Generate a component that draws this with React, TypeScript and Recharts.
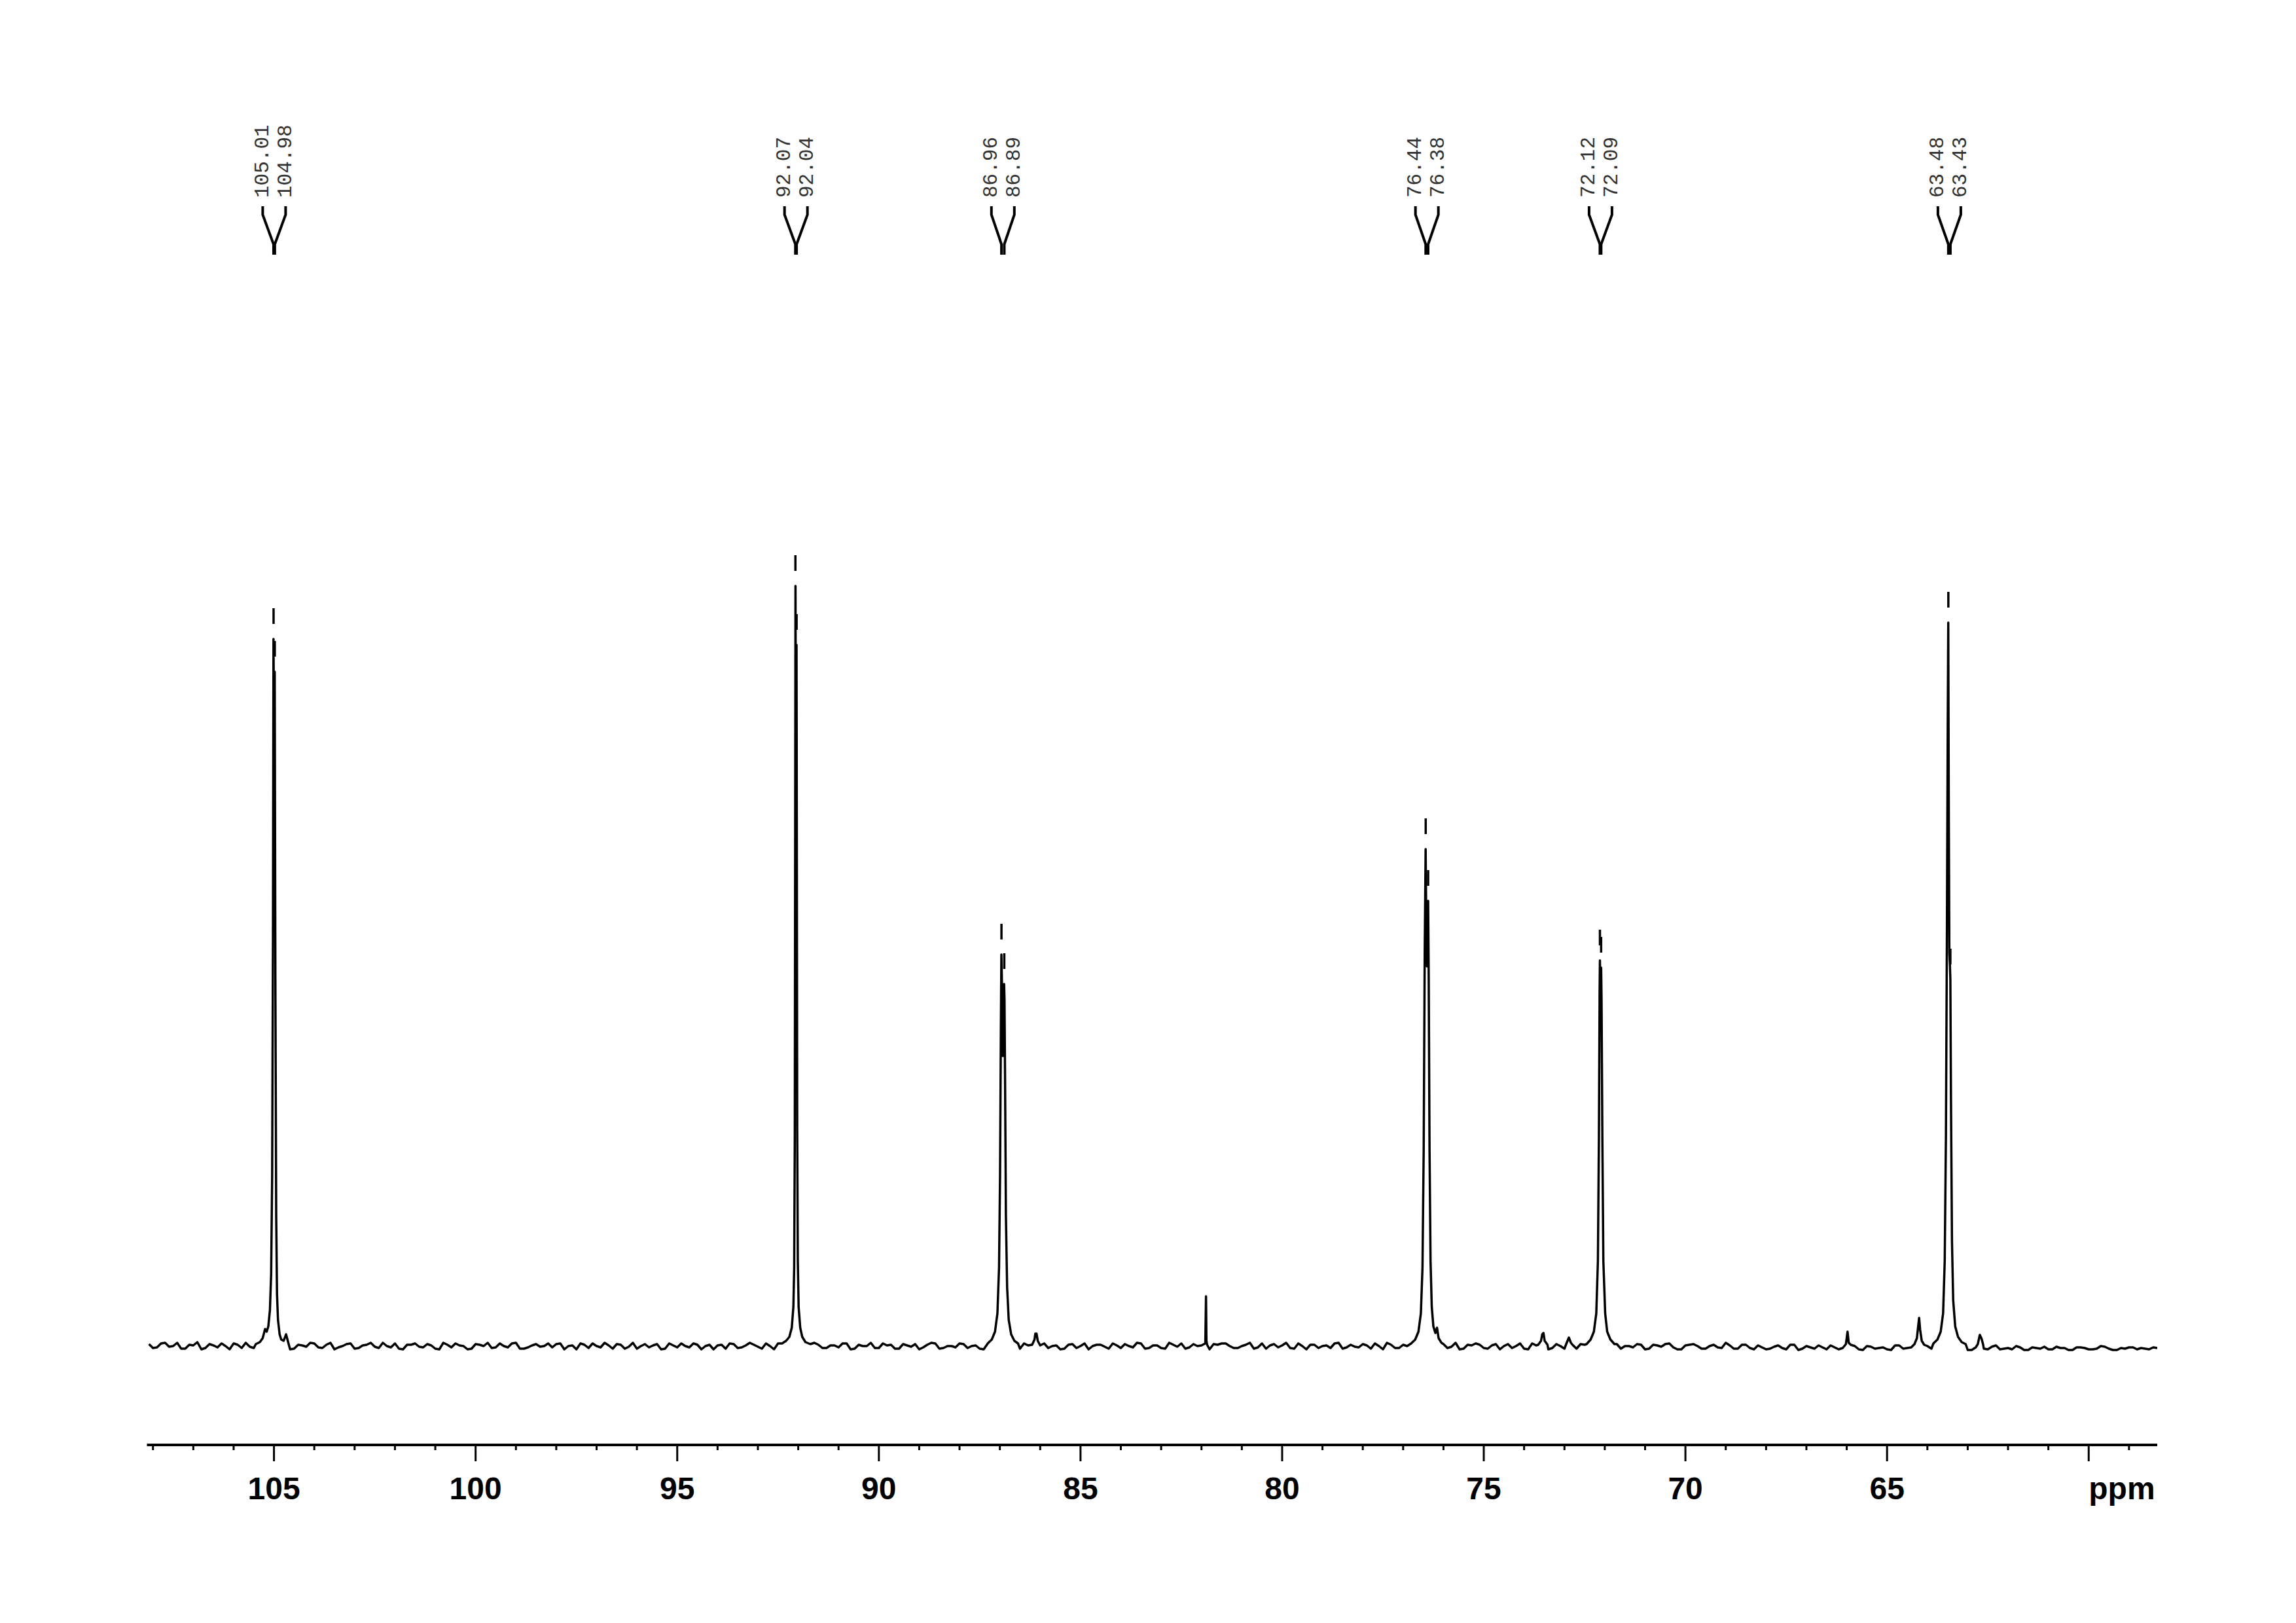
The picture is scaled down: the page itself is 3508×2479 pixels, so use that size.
import React from 'react';
import { ComposedChart, Line, XAxis, YAxis, Scatter } from 'recharts';

// ---- baseline noise ----
// set A: every 0.2 ppm from 108.1 down to 58.3
const NOISE_A_START = 108.1;
// set B: every 0.2 ppm from 108.0 down to 58.4
const NOISE_B_START = 108.0;
const NOISE_STEP = 0.2;
const baselineNoiseA = [
  3,-2,5,0,-4,2,6,-3,1,4,-5,2,5,-3,0,2,-2,4,-4,1,5,-2,2,-5,0,
  4,-3,2,-1,5,-2,-4,2,4,-2,1,-5,2,4,0,-4,2,5,-2,0,4,-4,-2,3,0,
  -2,4,0,-5,2,4,-2,1,3,-4,5,0,-2,3,-4,1,4,-2,2,0,-5,2,4,-3,1,
  2,-4,0,4,-2,5,1,-4,2,-3,1,4,-5,2,0,-3,4,2,-4,1,3,-2,5,-4,0,
  -2,3,0,-4,4,-2,2,5,-4,1,-2,4,0,-5,2,-3,4,0,2,-4,1,3,-2,4,-3,
  1,-4,2,4,-2,0,-5,3,4,0,-3,2,-4,4,1,-2,5,-4,0,2,-3,1,4,-4,2,
  -2,1,4,-5,2,-3,0,4,-4,2,0,-3,5,-4,1,2,-4,3,0,-3,4,-5,1,2,-3,
  0,4,-4,2,-3,1,-5,3,0,-2,2,-4,1,3,-2,-5,2,0,-4,2,-3,1,-4,2,-5,
  -2,-4,1,-5,2,-4,-2,1,-5,-2,-3,2,-5,0,-4,-2,-6,1,-3,-5,-1,-4,0,-5,-2,
  -3,-6,-1,-5,1,-4,-5,-2,-6,-3,-1,-5,-3,-6,-2,-3,-5,0,-4,-6,-4,-2,-3,-5,-3,
];
const baselineNoiseB = [
  -3,4,-1,5,-4,1,-5,3,-2,0,4,-3,-1,5,-4,3,0,-5,2,-1,4,-3,5,-2,3,
  -4,1,5,-3,0,4,-5,2,-1,3,-4,5,-2,1,-5,3,0,-3,4,-2,5,-4,1,-1,4,
  3,-5,1,4,-3,0,5,-4,2,-1,-4,3,1,-5,4,-2,0,4,-5,2,1,-4,3,-2,5,
  -1,4,-5,2,3,-4,0,5,-3,1,-2,4,-4,0,5,-3,1,-4,3,-1,-5,2,4,-3,0,
  4,-3,1,-5,2,3,-4,0,4,-2,5,-3,1,-4,3,0,-5,2,-1,4,-3,0,5,-4,1,
  -3,5,-1,-4,3,1,-5,2,4,-3,0,5,-2,-4,3,1,-3,4,-5,2,0,-3,5,-2,-1,
  3,-4,0,5,-3,2,-5,1,4,-4,3,-1,-5,2,4,-3,1,-5,3,0,-4,4,-2,-5,3,
  -4,2,3,-5,1,-2,4,-4,0,3,-5,2,-1,4,-5,1,3,-4,0,-2,5,-4,2,-3,1,
  -5,-1,-3,2,-6,0,-4,-2,1,-5,-3,0,-6,-1,-3,-5,1,-4,-2,-6,0,-3,-5,-1,-4,
  -6,-2,-4,-1,-5,-3,0,-6,-2,-4,-5,-1,-3,-6,-2,-5,-4,-1,-6,-3,-2,-5,-4,-2,
];

// ---- peak regions [ppm, intensity] ----
const peaks105 = [
  [105.45, 3], [105.35, 6], [105.28, 12], [105.22, 26], [105.18, 22], [105.14, 30], [105.1, 55],
  [105.07, 110], [105.045, 260], [105.025, 620], [105.012, 1080], [104.995, 900], [104.982, 1030],
  [104.965, 560], [104.945, 200], [104.925, 80], [104.9, 40], [104.86, 18], [104.82, 10],
  [104.76, 8], [104.7, 18], [104.64, 4],
];
const peaks92 = [
  [92.4, 4], [92.3, 8], [92.22, 14], [92.16, 28], [92.12, 60], [92.1, 120], [92.085, 320],
  [92.075, 800], [92.068, 1161], [92.055, 850], [92.042, 1071], [92.035, 800], [92.025, 330],
  [92.01, 130], [91.99, 60], [91.95, 28], [91.9, 14], [91.82, 6], [91.7, 3],
];
const peaks87 = [
  [87.3, 4], [87.2, 10], [87.12, 22], [87.06, 50], [87.02, 120], [86.995, 260], [86.975, 480],
  [86.962, 598], [86.95, 560], [86.935, 470], [86.925, 443], [86.91, 480], [86.895, 553],
  [86.885, 530], [86.87, 400], [86.85, 200], [86.82, 90], [86.78, 40], [86.72, 18], [86.64, 8], [86.55, 4],
];
const peaks76 = [
  [76.8, 4], [76.7, 10], [76.62, 22], [76.56, 50], [76.52, 120], [76.49, 300], [76.465, 600],
  [76.442, 759], [76.425, 640], [76.41, 580], [76.395, 640], [76.38, 680], [76.365, 560],
  [76.345, 300], [76.32, 130], [76.29, 60], [76.25, 30], [76.2, 20], [76.16, 28], [76.12, 12], [76.05, 5],
];
const peaks72 = [
  [72.45, 3], [72.35, 10], [72.27, 22], [72.21, 50], [72.17, 130], [72.145, 320], [72.128, 540],
  [72.12, 589], [72.105, 521], [72.09, 578], [72.08, 530], [72.06, 320], [72.035, 130],
  [71.99, 50], [71.94, 22], [71.86, 10], [71.76, 3],
];
const peaks63 = [
  [63.85, 4], [63.75, 10], [63.67, 22], [63.61, 50], [63.57, 130], [63.54, 320], [63.515, 640],
  [63.495, 950], [63.482, 1105], [63.468, 800], [63.455, 600], [63.44, 580], [63.43, 560],
  [63.415, 380], [63.39, 160], [63.36, 70], [63.31, 30], [63.24, 14], [63.15, 6], [63.05, 3],
];
const minorPeaks = [
  [[86.2, 2], [86.14, 10], [86.12, 19], [86.09, 19], [86.06, 8], [86.0, 1]],
  [[81.905, 4], [81.888, 76], [81.878, 8], [81.86, 2]],
  [[73.65, 2], [73.58, 8], [73.55, 18], [73.52, 20], [73.49, 8], [73.42, 2]],
  [[72.95, 4], [72.89, 13], [72.84, 5]],
  [[66.02, 3], [65.98, 22], [65.95, 5]],
  [[64.32, 3], [64.26, 12], [64.22, 35], [64.205, 43], [64.18, 25], [64.14, 8], [64.08, 2]],
  [[62.75, 3], [62.7, 17], [62.66, 12], [62.62, 3]],
];

// ---- peak annotations ----
const peakLabels = ['105.01', '104.98', '92.07', '92.04', '86.96', '86.89', '76.44', '76.38', '72.12', '72.09', '63.48', '63.43'];
const peakPositions = [105.01, 104.98, 92.07, 92.04, 86.96, 86.89, 76.44, 76.38, 72.12, 72.09, 63.48, 63.43];
const peakTops = [1080, 1030, 1161, 1071, 598, 553, 759, 680, 589, 578, 1105, 560];

// ---- axis ----
const majorTicks = [105, 100, 95, 90, 85, 80, 75, 70, 65, 60];
const minorTicks = [108, 107, 106, 104, 103, 102, 101, 99, 98, 97, 96, 94, 93, 92, 91, 89, 88, 87, 86, 84, 83, 82, 81, 79, 78, 77, 76, 74, 73, 72, 71, 69, 68, 67, 66, 64, 63, 62, 61, 59];
const X_DOMAIN: [number, number] = [58.3, 108.15];
const Y_DOMAIN: [number, number] = [-151, 1956];

// label layout (intensity units = px)
const LABEL_TEXT_Y = 1754;
const BR_TOP = 1741;
const BR_BEND = 1728;
const BR_JOIN = 1683;
const BR_BOTTOM = 1667;
const LABEL_HALF_GAP = 0.284;

// ---- build series ----
const segments: number[][][] = [peaks105, peaks92, peaks87, peaks76, peaks72, peaks63, ...minorPeaks];
const ranges = segments.map((s) => {
  const xs = s.map((p) => p[0]);
  return [Math.min(...xs), Math.max(...xs)];
});
const noisePoints = [
  ...baselineNoiseA.map((v, i) => ({ ppm: +(NOISE_A_START - i * NOISE_STEP).toFixed(3), y: v })),
  ...baselineNoiseB.map((v, i) => ({ ppm: +(NOISE_B_START - i * NOISE_STEP).toFixed(3), y: v })),
];
const basePoints = noisePoints.filter((p) => !ranges.some(([lo, hi]) => p.ppm >= lo && p.ppm <= hi));
const spectrum = [...basePoints, ...segments.flat().map(([ppm, y]) => ({ ppm, y }))].sort((a, b) => b.ppm - a.ppm);

const labelData = peakLabels.map((text, i) => {
  const pair = Math.floor(i / 2) * 2;
  const center = (peakPositions[pair] + peakPositions[pair + 1]) / 2;
  const col = i % 2 === 0 ? center + LABEL_HALF_GAP : center - LABEL_HALF_GAP;
  return { ppm: col, y: LABEL_TEXT_Y, text, peak: peakPositions[i] };
});
const brackets = labelData.map((d) => [
  { ppm: d.ppm, y: BR_TOP },
  { ppm: d.ppm, y: BR_BEND },
  { ppm: d.peak, y: BR_JOIN },
  { ppm: d.peak, y: BR_BOTTOM },
]);
const markers = peakPositions.map((p, i) => [
  { ppm: p, y: peakTops[i] + 23 },
  { ppm: p, y: peakTops[i] + 47 },
]);

const allTicks = [...majorTicks, ...minorTicks].sort((a, b) => a - b);

const AxisTick = (props: any) => {
  const { x, y, payload } = props;
  const v = payload.value;
  const major = v % 5 === 0;
  return (
    <g>
      <line x1={x} y1={y} x2={x} y2={y + (major ? 25 : 8)} stroke="#000" strokeWidth={3} />
      {major && (
        <text
          x={x}
          y={y + 83}
          textAnchor={v === 60 ? 'start' : 'middle'}
          fontFamily="'Liberation Sans', Arial, sans-serif"
          fontWeight="bold"
          fontSize={48}
          fill="#000"
        >
          {v === 60 ? 'ppm' : v}
        </text>
      )}
    </g>
  );
};

const LabelShape = (props: any) => {
  const { cx, cy, payload } = props;
  return (
    <text
      x={cx}
      y={cy}
      transform={`rotate(-90 ${cx} ${cy})`}
      textAnchor="start"
      dominantBaseline="central"
      fontFamily="'Liberation Mono', 'Courier New', monospace"
      fontSize={31}
      fill="#333"
    >
      {payload.text}
    </text>
  );
};

export default function App() {
  return (
    <div style={{ position: 'absolute', left: 0, top: 0, background: '#fff' }}>
      <ComposedChart width={3508} height={2479} margin={{ top: 100, right: 212, bottom: 212, left: 224.5 }}>
        <XAxis
          type="number"
          dataKey="ppm"
          domain={X_DOMAIN}
          reversed
          allowDataOverflow
          ticks={allTicks}
          interval={0}
          tickLine={false}
          tickSize={0}
          tickMargin={0}
          height={60}
          axisLine={{ stroke: '#000', strokeWidth: 4 }}
          tick={<AxisTick />}
        />
        <YAxis hide type="number" dataKey="y" domain={Y_DOMAIN} allowDataOverflow />
        <Line
          data={spectrum}
          dataKey="y"
          type="linear"
          stroke="#000"
          strokeWidth={3.5}
          dot={false}
          isAnimationActive={false}
          strokeLinejoin="round"
        />
        {brackets.map((b, i) => (
          <Line
            key={'br' + i}
            data={b}
            dataKey="y"
            type="linear"
            stroke="#000"
            strokeWidth={4}
            dot={false}
            isAnimationActive={false}
          />
        ))}
        {markers.map((m, i) => (
          <Line
            key={'mk' + i}
            data={m}
            dataKey="y"
            type="linear"
            stroke="#000"
            strokeWidth={3.5}
            dot={false}
            isAnimationActive={false}
          />
        ))}
        <Scatter data={labelData} dataKey="y" shape={<LabelShape />} isAnimationActive={false} />
      </ComposedChart>
    </div>
  );
}
